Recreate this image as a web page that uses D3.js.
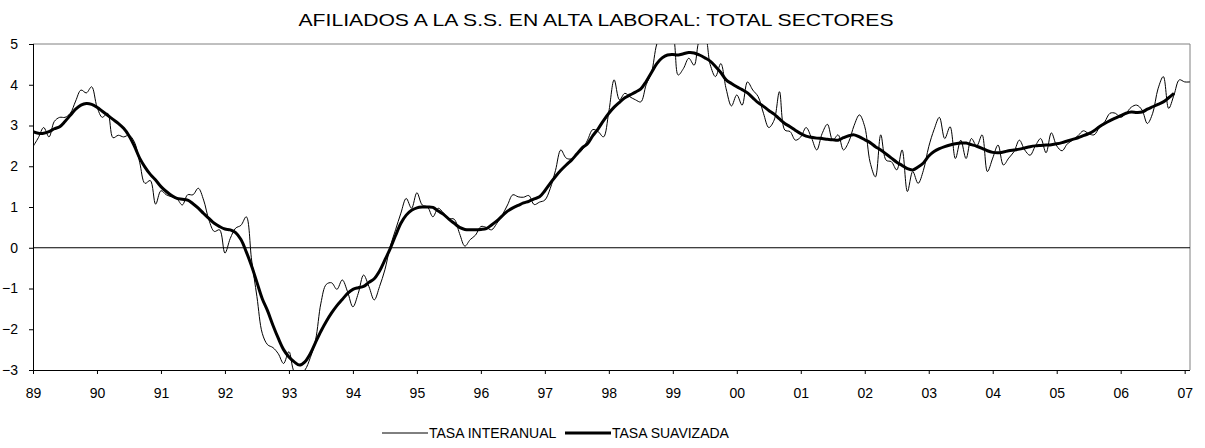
<!DOCTYPE html>
<html>
<head>
<meta charset="utf-8">
<script src="https://cdn.jsdelivr.net/npm/d3@7"></script>
<style>
  body { margin: 0; background: #fff; }
  svg { font-family: "Liberation Sans", Arial, sans-serif; }
</style>
</head>
<body>
<div id="chart"></div>
<script>
// monthly series, starting January 1989
const startYear = 1989;
const yearLabels = ["89", "90", "91", "92", "93", "94", "95", "96", "97", "98", "99",
                    "00", "01", "02", "03", "04", "05", "06", "07"];
const yTicks = [-3, -2, -1, 0, 1, 2, 3, 4, 5];

// TASA INTERANUAL (Jan 1989 - Feb 2007)
const tasaInteranual = [
  2.48, 2.70, 2.95, 2.72, 3.10, 3.20, 3.20, 3.30, 3.60, 3.87, 3.80, 3.95,
  3.46, 3.20, 3.30, 2.70, 2.76, 2.72, 2.76, 2.60, 2.10, 1.58, 1.65, 1.07,
  1.40, 1.30, 1.25, 1.20, 1.05, 1.30, 1.30, 1.46, 1.17, 0.68, 0.40, 0.44,
  -0.13, 0.23, 0.48, 0.55, 0.76, -0.30, -1.20, -2.10, -2.38, -2.45, -2.60, -2.84,
  -2.55, -3.04, -3.10, -3.00, -2.70, -2.26, -1.36, -0.90, -0.86, -1.02, -0.79, -1.08,
  -1.45, -1.12, -0.67, -0.95, -1.28, -0.95, -0.54, 0.03, 0.44, 0.85, 1.21, 0.97,
  1.35, 1.05, 1.00, 0.76, 0.97, 0.85, 0.72, 0.70, 0.35, 0.04, 0.20, 0.31,
  0.52, 0.50, 0.44, 0.60, 0.80, 1.05, 1.30, 1.25, 1.24, 1.28, 1.06, 1.12,
  1.17, 1.45, 1.90, 2.40, 2.20, 2.18, 2.27, 2.40, 2.64, 2.90, 2.85, 2.72,
  3.34, 4.12, 3.63, 3.79, 3.70, 3.63, 3.58, 4.00, 4.30, 5.00, 5.30, 5.30,
  5.20, 4.24, 4.40, 4.65, 4.48, 5.10, 5.20, 4.50, 4.20, 4.52, 3.90, 3.48,
  3.75, 3.50, 4.07, 3.87, 3.71, 3.30, 2.95, 3.13, 3.83, 2.89, 2.85, 2.64,
  2.72, 2.95, 2.70, 2.40, 2.80, 3.03, 2.64, 2.77, 2.40, 2.60, 3.00, 3.26,
  2.97, 2.10, 1.74, 2.77, 2.15, 2.11, 1.91, 2.40, 1.38, 1.87, 1.58, 1.90,
  2.48, 2.90, 3.20, 2.68, 2.97, 2.19, 2.64, 2.19, 2.68, 2.50, 2.77, 1.87,
  2.20, 2.52, 2.03, 2.20, 2.36, 2.64, 2.40, 2.27, 2.50, 2.68, 2.33, 2.82,
  2.50, 2.38, 2.55, 2.64, 2.75, 2.87, 2.80, 2.77, 2.95, 3.09, 3.30, 3.30,
  3.20, 3.30, 3.45, 3.50, 3.38, 3.05, 3.30, 3.90, 4.20, 3.42, 3.75, 4.12,
  4.07, 4.07
];

// TASA SUAVIZADA (Jan 1989 - Nov 2006)
const tasaSuavizada = [
  2.85, 2.81, 2.81, 2.85, 2.92, 2.97, 3.10, 3.25, 3.40, 3.50, 3.54, 3.52,
  3.45, 3.35, 3.25, 3.15, 3.05, 2.93, 2.75, 2.50, 2.20, 1.98, 1.80, 1.66,
  1.50, 1.38, 1.28, 1.21, 1.19, 1.17, 1.08, 0.97, 0.84, 0.72, 0.60, 0.52,
  0.46, 0.44, 0.37, 0.20, -0.10, -0.45, -0.85, -1.25, -1.55, -1.90, -2.22, -2.50,
  -2.68, -2.80, -2.88, -2.80, -2.60, -2.32, -2.05, -1.81, -1.60, -1.42, -1.27, -1.12,
  -1.02, -0.98, -0.95, -0.85, -0.76, -0.57, -0.30, -0.02, 0.30, 0.60, 0.80, 0.92,
  0.98, 1.00, 1.00, 0.99, 0.90, 0.82, 0.70, 0.60, 0.50, 0.45, 0.44, 0.44,
  0.45, 0.47, 0.56, 0.66, 0.78, 0.90, 0.98, 1.04, 1.10, 1.14, 1.20, 1.25,
  1.40, 1.58, 1.75, 1.90, 2.03, 2.15, 2.30, 2.45, 2.55, 2.75, 2.92, 3.12,
  3.30, 3.45, 3.57, 3.68, 3.75, 3.82, 3.90, 4.08, 4.30, 4.52, 4.66, 4.73,
  4.74, 4.73, 4.76, 4.79, 4.78, 4.73, 4.66, 4.58, 4.45, 4.30, 4.12, 4.03,
  3.95, 3.88, 3.80, 3.68, 3.56, 3.47, 3.37, 3.28, 3.16, 3.05, 2.97, 2.88,
  2.80, 2.74, 2.71, 2.69, 2.68, 2.66, 2.65, 2.64, 2.70, 2.75, 2.77, 2.72,
  2.65, 2.58, 2.48, 2.40, 2.30, 2.20, 2.10, 2.02, 1.94, 1.91, 1.98, 2.08,
  2.25, 2.36, 2.43, 2.48, 2.52, 2.55, 2.57, 2.57, 2.53, 2.49, 2.44, 2.38,
  2.34, 2.33, 2.35, 2.38, 2.40, 2.42, 2.45, 2.48, 2.50, 2.51, 2.52, 2.53,
  2.55, 2.58, 2.62, 2.66, 2.70, 2.75, 2.80, 2.87, 2.97, 3.05, 3.12, 3.18,
  3.24, 3.30, 3.33, 3.32, 3.33, 3.40, 3.46, 3.52, 3.58, 3.68, 3.79
];

const width = 1205;
const height = 448;
const margin = { top: 44, right: 15, bottom: 78, left: 33 };
const plotW = width - margin.left - margin.right;
const plotH = height - margin.top - margin.bottom;

const svg = d3.select("#chart").append("svg")
    .attr("width", width)
    .attr("height", height);

// month index -> x, one category per month
const x = d3.scaleLinear()
    .domain([0, tasaInteranual.length - 1])
    .range([margin.left, margin.left + plotW]);

const y = d3.scaleLinear()
    .domain([-3, 5])
    .range([margin.top + plotH, margin.top]);

// title (the original text is drawn a bit wide)
svg.append("text")
    .attr("x", 596)
    .attr("y", 26)
    .attr("text-anchor", "middle")
    .attr("font-size", "17px")
    .attr("textLength", 595)
    .attr("lengthAdjust", "spacingAndGlyphs")
    .attr("fill", "#000")
    .text("AFILIADOS A LA S.S. EN ALTA LABORAL: TOTAL SECTORES");

// plot frame (top and right in grey)
svg.append("line")
    .attr("x1", margin.left).attr("x2", margin.left + plotW)
    .attr("y1", margin.top).attr("y2", margin.top)
    .attr("stroke", "#808080").attr("stroke-width", 1);
svg.append("line")
    .attr("x1", margin.left + plotW).attr("x2", margin.left + plotW)
    .attr("y1", margin.top).attr("y2", margin.top + plotH)
    .attr("stroke", "#808080").attr("stroke-width", 1);

// zero line
svg.append("line")
    .attr("x1", margin.left).attr("x2", margin.left + plotW)
    .attr("y1", y(0)).attr("y2", y(0))
    .attr("stroke", "#000").attr("stroke-width", 1);

// axes
const yearTicks = yearLabels.map((d, i) => i * 12);

const xAxis = svg.append("g")
    .attr("transform", `translate(0,${margin.top + plotH})`)
    .call(d3.axisBottom(x)
        .tickValues(yearTicks)
        .tickFormat((d, i) => yearLabels[i])
        .tickSize(4)
        .tickPadding(14));

const yAxis = svg.append("g")
    .attr("transform", `translate(${margin.left},0)`)
    .call(d3.axisLeft(y)
        .tickValues(yTicks)
        .tickFormat(d3.format("d"))
        .tickSize(4)
        .tickPadding(11));

[xAxis, yAxis].forEach(g => {
    g.select(".domain").attr("stroke", "#000").attr("stroke-width", 1);
    g.selectAll(".tick line").attr("stroke", "#000");
    g.selectAll(".tick text")
        .attr("font-size", "14px")
        .attr("fill", "#000")
        .attr("font-family", "Liberation Sans, Arial, sans-serif");
});
xAxis.select(".domain").attr("d", `M${margin.left},0.5H${margin.left + plotW}`);
yAxis.select(".domain").attr("d", `M0.5,${margin.top}V${margin.top + plotH}`);

// clip the series to the plot area
svg.append("defs").append("clipPath")
    .attr("id", "plot-clip")
    .append("rect")
    .attr("x", margin.left)
    .attr("y", margin.top)
    .attr("width", plotW)
    .attr("height", plotH);

const line = d3.line()
    .x((d, i) => x(i))
    .y(d => y(d))
    .curve(d3.curveCatmullRom.alpha(0.5));

svg.append("path")
    .datum(tasaInteranual)
    .attr("clip-path", "url(#plot-clip)")
    .attr("fill", "none")
    .attr("stroke", "#000")
    .attr("stroke-width", 1)
    .attr("d", line);

svg.append("path")
    .datum(tasaSuavizada)
    .attr("clip-path", "url(#plot-clip)")
    .attr("fill", "none")
    .attr("stroke", "#000")
    .attr("stroke-width", 3)
    .attr("stroke-linejoin", "round")
    .attr("d", line);

// legend
const legendItems = [
    { label: "TASA INTERANUAL", width: 1, x: 382 },
    { label: "TASA SUAVIZADA", width: 3, x: 565 }
];

const legend = svg.append("g").attr("transform", "translate(0,433)");

legend.selectAll("line")
    .data(legendItems)
    .enter()
    .append("line")
    .attr("x1", d => d.x)
    .attr("x2", d => d.x + 46)
    .attr("y1", 0)
    .attr("y2", 0)
    .attr("stroke", "#000")
    .attr("stroke-width", d => d.width);

legend.selectAll("text")
    .data(legendItems)
    .enter()
    .append("text")
    .attr("x", d => d.x + 47)
    .attr("y", 5)
    .attr("font-size", "14px")
    .attr("fill", "#000")
    .text(d => d.label);
</script>
</body>
</html>
